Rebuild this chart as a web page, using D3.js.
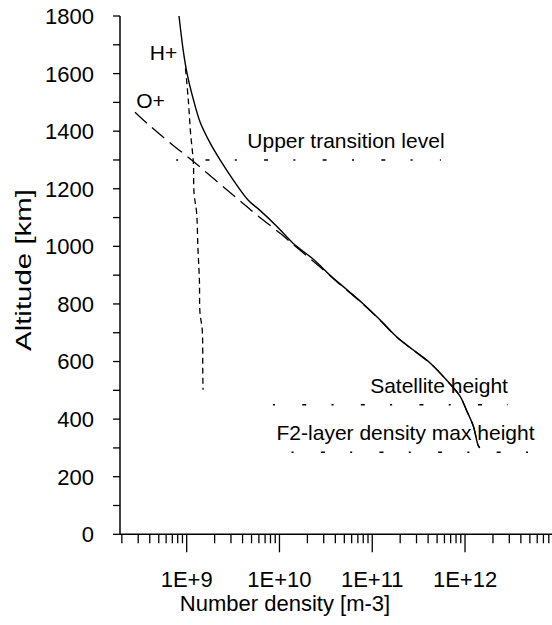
<!DOCTYPE html>
<html><head><meta charset="utf-8">
<script src="https://cdn.jsdelivr.net/npm/d3@7/dist/d3.min.js"></script>
<style>
body{margin:0;background:#fff}
text{font-family:"Liberation Sans",Arial,sans-serif;fill:#000}
</style>
</head><body>
<svg id="chart" width="552" height="625"></svg>
<script>
// ---------- data ----------
const altMajorTicks = [0,200,400,600,800,1000,1200,1400,1600,1800];
const altMinorTicks = [100,300,500,700,900,1100,1300,1500,1700];
const densityMajorTicks = [1e9,1e10,1e11,1e12];
const densityTickLabels = ["1E+9","1E+10","1E+11","1E+12"];

// total electron density (solid)
const totalAlt = [1800,1680,1600,1510,1430,1360,1300,1230,1160,1125,1070,1010,955,900,850,800,745,685,640,595,535,480,430,375,310,300];
const totalDensity = [8.26e8,9.18e8,1.01e9,1.18e9,1.40e9,1.78e9,2.29e9,3.18e9,4.61e9,6.17e9,9.33e9,1.41e10,2.32e10,3.51e10,5.31e10,8.02e10,1.21e11,1.84e11,2.77e11,4.20e11,6.35e11,8.83e11,1.04e12,1.23e12,1.38e12,1.44e12];

// O+ (long dash)
const oAlt = [1466,1418,1355,1300,1231,1168,1109,1046,987,928,873,800,745,685,640,595,535,480,430,375,310,300];
const oDensity = [2.77e8,4.03e8,6.89e8,1.13e9,2.02e9,3.46e9,5.69e9,1.01e10,1.66e10,2.74e10,4.30e10,7.90e10,1.20e11,1.83e11,2.76e11,4.18e11,6.33e11,8.80e11,1.04e12,1.23e12,1.38e12,1.44e12];

// H+ (short dash)
const hAlt = [1618,1510,1395,1290,1185,1116,998,884,770,711,560,502];
const hDensity = [9.7e8,1.04e9,1.10e9,1.18e9,1.20e9,1.28e9,1.32e9,1.37e9,1.39e9,1.47e9,1.49e9,1.50e9];

// horizontal reference levels
const levelNames = ["Upper transition level","Satellite  height","F2-layer density max height"];
const levelAlt = [1300,450,285];
const levelFrom = [7.7e8,8.5e9,1.35e10];
const levelTo = [5.5e11,2.9e12,4.8e12];
const levelLabelDensity = [4.5e9,9.5e10,9.3e9];

// species labels
const speciesNames = ["H+","O+"];
const speciesLabelAlt = [1648,1482];
const speciesLabelDensity = [4.0e8,2.85e8];

// ---------- chart ----------
const svg = d3.select("#chart");
const x = d3.scaleLog().domain([1.91e8,8.66e12]).range([120,552]);
const y = d3.scaleLinear().domain([0,1800]).range([534.3,16]);
const g = svg.append("g");

// y axis
g.append("line").attr("x1",120).attr("x2",120).attr("y1",y(1800)).attr("y2",y(0))
  .attr("stroke","#000").attr("stroke-width",1.5);
g.selectAll(".yt").data(altMajorTicks.concat(altMinorTicks)).join("line")
  .attr("x1",113).attr("x2",120).attr("y1",d=>y(d)).attr("y2",d=>y(d))
  .attr("stroke","#000").attr("stroke-width",1.3);
g.selectAll(".yl").data(altMajorTicks).join("text")
  .attr("x",94).attr("y",d=>y(d)).attr("dy","0.36em").attr("text-anchor","end")
  .attr("font-size",22).text(d=>d);

// x axis
g.append("line").attr("x1",120).attr("x2",552).attr("y1",y(0)).attr("y2",y(0))
  .attr("stroke","#000").attr("stroke-width",1.5);
const minor = [];
const dom = x.domain();
for (let e=8;e<=12;e++) for (let m=2;m<=9;m++){const v=m*Math.pow(10,e); if(v>=dom[0]&&v<=dom[1]) minor.push(v);}
g.selectAll(".xm").data(minor).join("line")
  .attr("x1",d=>x(d)).attr("x2",d=>x(d)).attr("y1",y(0)).attr("y2",y(0)+9)
  .attr("stroke","#000").attr("stroke-width",1.3);
g.selectAll(".xM").data(densityMajorTicks).join("line")
  .attr("x1",d=>x(d)).attr("x2",d=>x(d)).attr("y1",y(0)).attr("y2",y(0)+18)
  .attr("stroke","#000").attr("stroke-width",1.3);
g.selectAll(".xl").data(densityMajorTicks).join("text")
  .attr("x",d=>x(d)).attr("y",587).attr("text-anchor","middle")
  .attr("font-size",22).text((d,i)=>densityTickLabels[i]);

// axis titles
g.append("text").attr("x",285).attr("y",611).attr("text-anchor","middle")
  .attr("font-size",22).text("Number density [m-3]");
g.append("text").attr("transform","translate(31,270) rotate(-90)").attr("text-anchor","middle")
  .attr("font-size",22).attr("textLength",162).attr("lengthAdjust","spacingAndGlyphs")
  .text("Altitude [km]");

// reference levels
levelAlt.forEach((a,i)=>{
  g.append("line").attr("x1",x(levelFrom[i])).attr("x2",x(levelTo[i]))
    .attr("y1",y(a)).attr("y2",y(a)).attr("stroke","#000").attr("stroke-width",1.5)
    .attr("stroke-dasharray","2,27.3,4,25.3");
  g.append("text").attr("x",x(levelLabelDensity[i])).attr("y",y(a)-12)
    .attr("font-size",21).text(levelNames[i]);
});

// curves
const line = d3.line().x(d=>x(d[1])).y(d=>y(d[0])).curve(d3.curveCatmullRom);
g.append("path").datum(oAlt.map((a,i)=>[a,oDensity[i]])).attr("d",line)
  .attr("fill","none").attr("stroke","#000").attr("stroke-width",1.3).attr("stroke-dasharray","16,7");
g.append("path").datum(hAlt.map((a,i)=>[a,hDensity[i]])).attr("d",line)
  .attr("fill","none").attr("stroke","#000").attr("stroke-width",1.3).attr("stroke-dasharray","6,4");
g.append("path").datum(totalAlt.map((a,i)=>[a,totalDensity[i]])).attr("d",line)
  .attr("fill","none").attr("stroke","#000").attr("stroke-width",1.4);

// species labels
g.selectAll(".sp").data(speciesNames).join("text")
  .attr("x",(d,i)=>x(speciesLabelDensity[i])).attr("y",(d,i)=>y(speciesLabelAlt[i]))
  .attr("font-size",21).text(d=>d);
</script>
</body></html>
